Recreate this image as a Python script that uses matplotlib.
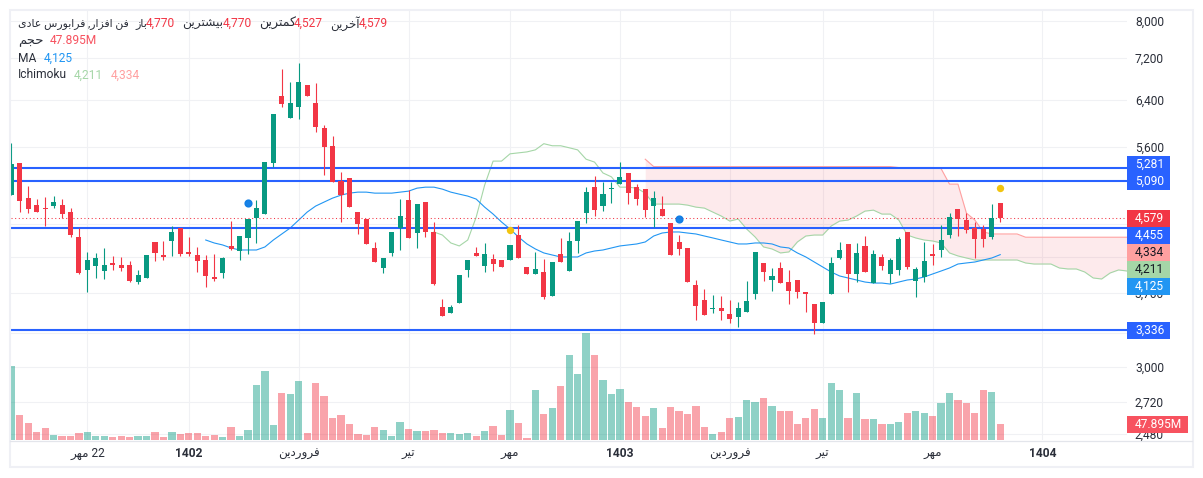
import numpy as np
import matplotlib
matplotlib.use("Agg")
import matplotlib.pyplot as plt
from matplotlib.lines import Line2D
from matplotlib.patches import Rectangle
from matplotlib.ticker import NullLocator

opens = [4883, 5349, 4842, 4747, 4707, 4734, 4747, 4654, 4337, 3950,
         3995, 3938, 4029, 4006, 4006, 3817, 3861, 4276, 4121, 4288,
         4449, 4157, 4121, 4063, 3872, 3916, 4228, 4168, 4325, 4576,
         4628, 5349, 6468, 6075, 6269, 6672, 6340, 5906, 5614, 5081,
         5128, 4654, 4563, 4204, 3972, 4145, 4449, 4815, 4386, 4788,
         4399, 3556, 3496, 3596, 3950, 4145, 3995, 4075, 4063, 4063,
         4361, 3983, 3905, 3927, 3668, 4133, 3938, 4288, 4641, 4995,
         4734, 4967, 5038, 5199, 4995, 4967, 4734, 4694, 4512, 4276,
         4204, 3784, 3627, 3536, 3546, 3486, 3456, 3506, 3689, 4029,
         3839, 3972, 3817, 3839, 3710, 3586, 3398, 3689, 4086, 4252,
         3905, 4228, 3806, 4098, 3905, 3950, 4399, 3828, 3872, 4133,
         4180, 4361, 4694, 4550, 4449, 4436, 4337, 4770]
highs = [5661, 5349, 5009, 4829, 4856, 4870, 4829, 4707, 4449, 4157,
         4145, 4204, 4110, 4098, 4052, 3950, 4121, 4276, 4288, 4474,
         4449, 4337, 4216, 4121, 4133, 4098, 4537, 4349, 4563, 4815,
         5364, 6145, 6981, 6728, 7101, 6672, 6709, 5957, 5773, 5213,
         5128, 4654, 4563, 4276, 4086, 4399, 4829, 4955, 4761, 4788,
         4525, 3637, 3576, 3894, 4063, 4216, 4264, 4133, 4063, 4240,
         4486, 3983, 4157, 4075, 4040, 4325, 4399, 4537, 4995, 5157,
         5066, 5066, 5364, 5199, 5038, 4967, 4939, 4870, 4512, 4361,
         4204, 3839, 3742, 3679, 3668, 3627, 3606, 3828, 4157, 4029,
         3972, 4040, 3950, 3839, 3710, 3586, 3606, 4098, 4276, 4252,
         4264, 4349, 4180, 4133, 4086, 4337, 4399, 3983, 4276, 4252,
         4486, 4641, 4694, 4641, 4525, 4486, 4761, 4770]
lows = [4883, 4654, 4641, 4654, 4474, 4707, 4576, 4337, 3905, 3710,
        3861, 3850, 3950, 3938, 3817, 3795, 3861, 4052, 4063, 4110,
        4110, 4110, 3927, 3763, 3828, 3861, 4180, 4063, 4133, 4264,
        4628, 5290, 6269, 6075, 6058, 6468, 5838, 5171, 5066, 4525,
        4720, 4374, 4252, 4040, 3916, 4110, 4180, 4325, 4204, 4337,
        3784, 3466, 3496, 3596, 3872, 4110, 3927, 3938, 3983, 4063,
        4086, 3905, 3905, 3637, 3668, 4040, 3938, 4145, 4512, 4602,
        4667, 4774, 5038, 4761, 4747, 4589, 4461, 4602, 4121, 4121,
        3817, 3427, 3476, 3496, 3427, 3398, 3360, 3506, 3637, 3828,
        3720, 3806, 3586, 3648, 3506, 3294, 3398, 3689, 4075, 3710,
        3817, 3927, 3806, 3950, 3806, 3894, 3961, 3658, 3817, 4006,
        4098, 4325, 4349, 4386, 4086, 4216, 4313, 4527]
closes = [5334, 4801, 4694, 4654, 4694, 4788, 4628, 4361, 3916, 4063,
          4086, 4006, 4006, 3972, 3828, 3894, 4121, 4145, 4098, 4399,
          4133, 4133, 4052, 3883, 3850, 4086, 4192, 4349, 4563, 4707,
          5364, 6145, 6322, 6340, 6728, 6468, 5923, 5598, 5066, 4883,
          4720, 4499, 4252, 4040, 4086, 4399, 4602, 4325, 4761, 4399,
          3795, 3466, 3556, 3894, 4063, 4110, 4133, 4017, 3983, 4240,
          4086, 3905, 3961, 3658, 4040, 4040, 4288, 4537, 4925, 4680,
          4897, 4981, 5143, 4911, 4829, 4680, 4842, 4602, 4121, 4192,
          3817, 3566, 3476, 3546, 3516, 3437, 3546, 3617, 4157, 3927,
          3883, 3806, 3720, 3710, 3689, 3398, 3606, 4029, 4180, 3905,
          4145, 3927, 4133, 3995, 4063, 4313, 3983, 3961, 4052, 4110,
          4300, 4589, 4563, 4423, 4313, 4313, 4576, 4579]
# volume in millions
volumes = [222, 75, 51, 24, 36, 15, 12, 12, 21, 24,
           12, 12, 9, 12, 9, 12, 12, 24, 9, 24,
           18, 21, 21, 12, 15, 9, 39, 12, 30, 165,
           207, 45, 141, 138, 177, 21, 171, 132, 66, 75,
           48, 18, 15, 39, 30, 12, 54, 33, 27, 27,
           30, 21, 21, 18, 21, 12, 27, 42, 15, 90,
           51, 6, 150, 78, 96, 162, 255, 198, 321, 255,
           180, 138, 153, 114, 99, 72, 96, 36, 99, 87,
           78, 102, 39, 18, 24, 66, 69, 120, 114, 126,
           102, 87, 87, 48, 66, 93, 66, 171, 150, 66,
           141, 63, 63, 48, 48, 54, 81, 87, 81, 72,
           111, 141, 120, 111, 81, 150, 144, 48]

ma_values = [4300, 4264, 4240, 4204, 4180, 4180, 4180, 4216, 4300, 4374,
             4449, 4550, 4654, 4734, 4788, 4842, 4883, 4911, 4925, 4925,
             4911, 4911, 4911, 4925, 4939, 4981, 4995, 4995, 4967, 4925,
             4897, 4870, 4829, 4720, 4628, 4525, 4436, 4337, 4252, 4192,
             4145, 4121, 4098, 4098, 4098, 4145, 4168, 4180, 4204, 4228,
             4240, 4252, 4276, 4349, 4386, 4399, 4399, 4386, 4374, 4349,
             4325, 4300, 4276, 4252, 4252, 4264, 4264, 4252, 4216, 4204,
             4145, 4098, 4040, 3983, 3927, 3883, 3861, 3839, 3817, 3806,
             3806, 3795, 3817, 3839, 3850, 3872, 3905, 3938, 3972, 4017,
             4029, 4040, 4063, 4086, 4125]
ichimoku_green = [4399, 4361, 4264, 4228, 4300, 4589, 5024, 5378, 5378, 5490,
                  5505, 5520, 5552, 5650, 5617, 5617, 5585, 5552, 5407, 5363,
                  5200, 5143, 4995, 4995, 4981, 4911, 4761, 4761, 4761, 4761,
                  4747, 4720, 4707, 4654, 4602, 4537, 4563, 4436, 4337, 4216,
                  4192, 4145, 4157, 4276, 4349, 4361, 4361, 4474, 4537, 4550,
                  4602, 4667, 4680, 4628, 4628, 4550, 4361, 4325, 4300, 4288,
                  4264, 4145, 4110, 4086, 4063, 4063, 4063, 4063, 4063, 4063,
                  4029, 4017, 4017, 4017, 3972, 3961, 3961, 3927, 3861, 3850,
                  3916, 3950, 3938]
ichimoku_red = [5407, 5295, 5295, 5295, 5295, 5295, 5295, 5295, 5295, 5295,
                5295, 5295, 5295, 5295, 5295, 5295, 5295, 5295, 5295, 5295,
                5295, 5295, 5295, 5295, 5295, 5295, 5295, 5295, 5295, 5295,
                5281, 5281, 5281, 5281, 5281, 5265, 5038, 5038, 4641, 4550,
                4399, 4374, 4374, 4374, 4374, 4334, 4334, 4334, 4334, 4334,
                4334, 4334, 4334, 4334, 4334, 4334, 4334, 4334]

level_lines = [5281, 5090, 4455, 3336]
last_price = 4579
blue_dot_idx = [28, 79]
blue_dot_price = [4774, 4567]
yellow_dot_idx = [59, 117]
yellow_dot_price = [4423, 4981]

y_ticks = [8000, 7200, 6400, 5600, 4500, 4100, 3700, 3300, 3000, 2720, 2480]
y_tick_labels = ["8,000", "7,200", "6,400", "5,600", "", "", "3,700", "", "3,000", "2,720", "2,480"]
x_tick_idx = [9, 21, 34, 47, 59, 72, 85, 96, 109, 122]

W, H = 1203, 478
GREEN = "#089981"
RED = "#F23645"
BLUE = "#2962FF"
MA_BLUE = "#2196F3"
ICHI_GREEN = "#A5D6A7"
ICHI_RED = "#FFA0A0"
TEXT = "#2A2E39"
GRID = "#F0F1F4"

plt.rcParams["font.family"] = ["Roboto", "DejaVu Sans"]

# matplotlib does no arabic shaping, so pick the joined forms by hand
FORMS = {
    "ا": (0xFE8D, 0xFE8E), "آ": (0xFE81, 0xFE82), "د": (0xFEA9, 0xFEAA),
    "ر": (0xFEAD, 0xFEAE), "ز": (0xFEAF, 0xFEB0), "و": (0xFEED, 0xFEEE),
    "ب": (0xFE8F, 0xFE90, 0xFE91, 0xFE92), "ت": (0xFE95, 0xFE96, 0xFE97, 0xFE98),
    "ج": (0xFE9D, 0xFE9E, 0xFE9F, 0xFEA0), "ح": (0xFEA1, 0xFEA2, 0xFEA3, 0xFEA4),
    "خ": (0xFEA5, 0xFEA6, 0xFEA7, 0xFEA8), "س": (0xFEB1, 0xFEB2, 0xFEB3, 0xFEB4),
    "ش": (0xFEB5, 0xFEB6, 0xFEB7, 0xFEB8), "ع": (0xFEC9, 0xFECA, 0xFECB, 0xFECC),
    "ف": (0xFED1, 0xFED2, 0xFED3, 0xFED4), "ک": (0xFB8E, 0xFB8F, 0xFB90, 0xFB91),
    "م": (0xFEE1, 0xFEE2, 0xFEE3, 0xFEE4), "ن": (0xFEE5, 0xFEE6, 0xFEE7, 0xFEE8),
    "ه": (0xFEE9, 0xFEEA, 0xFEEB, 0xFEEC), "ی": (0xFBFC, 0xFBFD, 0xFBFE, 0xFBFF),
}


def shape(text):
    out = []
    for n, ch in enumerate(text):
        if ch not in FORMS:
            out.append(ch)
            continue
        forms = FORMS[ch]
        prev_joins = n > 0 and len(FORMS.get(text[n - 1], ())) == 4
        next_joins = len(forms) == 4 and n + 1 < len(text) and text[n + 1] in FORMS
        if len(forms) == 2:
            idx = 1 if prev_joins else 0
        elif prev_joins and next_joins:
            idx = 3
        elif next_joins:
            idx = 2
        elif prev_joins:
            idx = 1
        else:
            idx = 0
        out.append(chr(forms[idx]))
    return "".join(out)[::-1]


def label(x, y, s, color=TEXT, ha="left", size=8.64):
    fig.text(x / W, 1 - y / H, s, color=color, ha=ha, va="center", fontsize=size, zorder=6)


def price_box(y0, y1, s, bg, fg="white", x1=1170):
    fig.add_artist(Rectangle((1127 / W, 1 - y1 / H), (x1 - 1127) / W, (y1 - y0) / H,
                             transform=fig.transFigure, facecolor=bg, edgecolor="none", zorder=4))
    label(1135, (y0 + y1) / 2, s, color=fg)


fig = plt.figure(figsize=(W / 100, H / 100), dpi=100)
rect = [10.5 / W, 1 - 440 / H, (1127 - 10.5) / W, 430 / H]

ax = fig.add_axes(rect, zorder=1)
ax.set_yscale("log")
ax_vol = fig.add_axes(rect, zorder=2)
ax_vol.patch.set_visible(False)

x = np.arange(len(opens))
o = np.array(opens)
c = np.array(closes)
colors = [GREEN if c[i] >= o[i] else RED for i in x]

# grid and scales
ax.set_xlim(-0.1, 132)
ax.set_ylim(2439, 8254)
ax.yaxis.set_minor_locator(NullLocator())
ax.yaxis.tick_right()
ax.set_yticks(y_ticks, y_tick_labels)
for t in ax.get_yticklabels():
    t.set_ha("right")
ax.set_xticks(x_tick_idx, [
    f"{shape('مهر')} 22", "1402", shape("فروردین"), shape("تیر"), shape("مهر"),
    "1403", shape("فروردین"), shape("تیر"), shape("مهر"), "1404"])
for t in ax.get_xticklabels():
    if t.get_text().startswith("14"):
        t.set_fontweight("bold")
ax.tick_params(axis="y", length=0, pad=26.6, labelsize=8.64, labelcolor=TEXT)
ax.tick_params(axis="x", length=0, pad=5, labelsize=8.64, labelcolor=TEXT)
ax.grid(True, color=GRID, linewidth=0.8)
ax.set_axisbelow(True)
for s in ax.spines.values():
    s.set_visible(False)

# ichimoku cloud
green_x = np.arange(50, 50 + len(ichimoku_green))
red_x = np.arange(75, 75 + len(ichimoku_red))
ax.fill_between(red_x, ichimoku_red, ichimoku_green[25:], color=RED, alpha=0.1, linewidth=0, zorder=1)
ax.plot(green_x, ichimoku_green, color=ICHI_GREEN, lw=0.8, zorder=2)
ax.plot(red_x, ichimoku_red, color=ICHI_RED, lw=0.8, zorder=2)

ax.plot(np.arange(23, 23 + len(ma_values)), ma_values, color=MA_BLUE, lw=0.8, zorder=2)

for level in level_lines:
    ax.axhline(level, color=BLUE, lw=1.5, zorder=3)
ax.axhline(last_price, color=RED, lw=0.75, linestyle=(0, (1, 2.5)), zorder=3)

# candles
wicks = ax.vlines(x, lows, highs, colors=colors, lw=0.8, zorder=4)
wicks.set_snap(True)
ax.bar(x, np.abs(c - o), bottom=np.minimum(o, c), width=0.6, color=colors, linewidth=0, zorder=5)

ax.scatter(blue_dot_idx, blue_dot_price, s=24, color="#0B7BE5", edgecolors="#0B7BE5", alpha=0.95, zorder=6)
ax.scatter(yellow_dot_idx, yellow_dot_price, s=28, color="#F2C40F", linewidth=0, zorder=6)

# volume, 1M is a third of a pixel
ax_vol.bar(x, volumes, width=0.86, color=colors, alpha=0.45, linewidth=0)
ax_vol.set_xlim(-0.1, 132)
ax_vol.set_ylim(0, 1290)
ax_vol.axis("off")

# frame and bottom scale line
fig.add_artist(Rectangle((10 / W, 1 - 467 / H), 1183 / W, 457 / H, transform=fig.transFigure,
                         facecolor="none", edgecolor="#EFF0F5", linewidth=1.5, zorder=3))
fig.add_artist(Line2D([10 / W, 1192 / W], [1 - 440.5 / H] * 2, transform=fig.transFigure,
                      color="#E3E5EB", linewidth=0.9, zorder=3))

# price labels on the right
price_box(156, 173, "5,281", BLUE)
price_box(173, 190, "5,090", BLUE)
price_box(210, 227, "4,579", RED)
price_box(227, 244, "4,455", BLUE)
price_box(244, 261, "4,334", ICHI_RED, fg="#131722")
price_box(261, 278, "4,211", ICHI_GREEN, fg="#131722")
price_box(278, 295, "4,125", MA_BLUE)
price_box(322, 339, "3,336", BLUE)
price_box(416, 433, "47.895M", "#F7525F", x1=1188)

# legend block top left
label(18, 23.5, shape("فن افزار, فرابورس عادی"), size=7.8)
label(135, 23.5, shape("باز"), size=8)
label(146, 23.5, "4,770", color=RED)
label(182, 23.5, shape("بیشترین"), size=8.8)
label(223, 23.5, "4,770", color=RED)
label(259, 23.5, shape("کمترین"), size=9)
label(294, 23.5, "4,527", color=RED)
label(330, 23.5, shape("آخرین"), size=8.6)
label(359, 23.5, "4,579", color=RED)
label(18, 41, shape("حجم"), size=9.5)
label(50, 41, "47.895M", color="#F7525F")
label(18, 58, "MA")
label(44, 58, "4,125", color=MA_BLUE)
label(18, 75, "Ichimoku")
label(74, 75, "4,211", color=ICHI_GREEN)
label(111, 75, "4,334", color=ICHI_RED)

fig.savefig("out.png", dpi=100)
